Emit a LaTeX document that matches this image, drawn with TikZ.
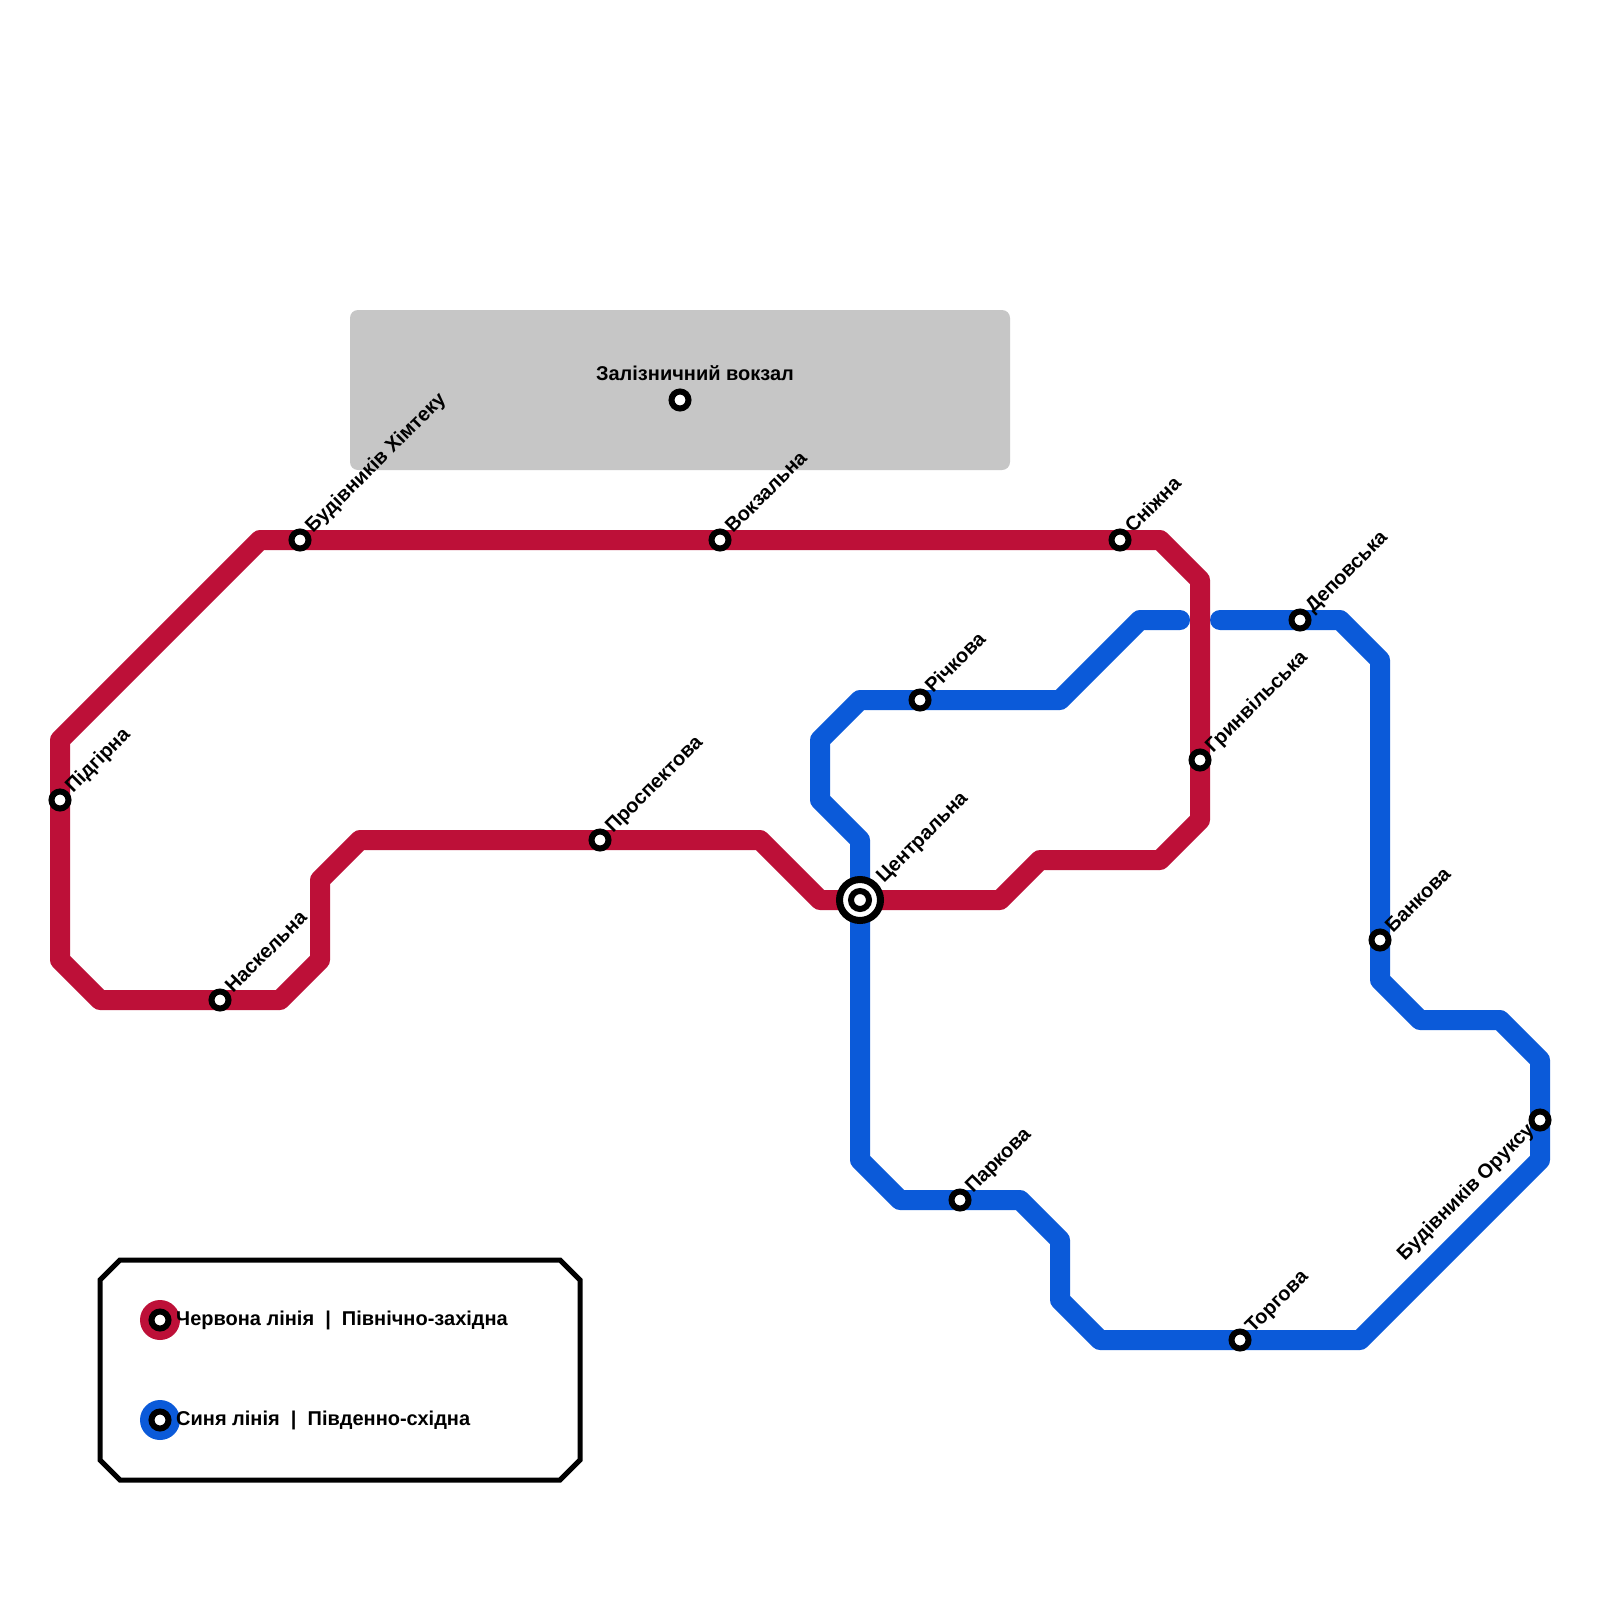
\documentclass[tikz,border=0pt]{standalone}
\usepackage{fontspec}
\setmainfont{Liberation Sans}
\definecolor{redline}{HTML}{BD1038}
\definecolor{blueline}{HTML}{0B5AD9}
\definecolor{zone}{HTML}{C6C6C6}
\tikzset{
  metro/.style={line width=20pt,line join=round},
  ring/.style={circle,draw=black,fill=white,line width=6pt,minimum size=17pt,inner sep=0pt,outer sep=0pt},
  lbl/.style={font=\fontsize{20}{22}\selectfont\bfseries,inner sep=0pt,text=black},
  up/.style={lbl,rotate=45,anchor=base west},
  dn/.style={lbl,rotate=45,anchor=base east},
}
\begin{document}
\begin{tikzpicture}[x=1pt,y=-1pt]
\useasboundingbox (0,0) rectangle (1600,1600);
\fill[white] (0,0) rectangle (1600,1600);
\fill[zone,rounded corners=8pt] (350,310) rectangle (1010,470);
% station positions
\coordinate (pA) at (60,800);
\coordinate (pB) at (300,540);
\coordinate (pC) at (720,540);
\coordinate (pD) at (1120,540);
\coordinate (pE) at (1200,760);
\coordinate (pF) at (1300,620);
\coordinate (pG) at (920,700);
\coordinate (pH) at (860,900);
\coordinate (pI) at (1380,940);
\coordinate (pJ) at (1540,1120);
\coordinate (pK) at (1240,1340);
\coordinate (pL) at (960,1200);
\coordinate (pM) at (220,1000);
\coordinate (pN) at (600,840);
\coordinate (pO) at (680,400);
% blue line
\draw[metro,blueline,line cap=round] (1220,620) -- (pF) -- (1340,620) -- (1380,660) -- (pI) -- (1380,980) -- (1420,1020) -- (1500,1020) -- (1540,1060) -- (pJ) -- (1540,1160) -- (1360,1340) -- (pK) -- (1100,1340) -- (1060,1300) -- (1060,1240) -- (1020,1200) -- (pL) -- (900,1200) -- (860,1160) -- (pH) -- (860,840) -- (820,800) -- (820,740) -- (860,700) -- (pG) -- (1060,700) -- (1140,620) -- (1180,620);
% red line
\draw[metro,redline] (pA) -- (60,740) -- (260,540) -- (pB) -- (pC) -- (pD) -- (1160,540) -- (1200,580) -- (pE) -- (1200,820) -- (1160,860) -- (1040,860) -- (1000,900) -- (pH) -- (820,900) -- (760,840) -- (pN) -- (360,840) -- (320,880) -- (320,960) -- (280,1000) -- (pM) -- (100,1000) -- (60,960) -- cycle;
% stations
\foreach \n in {A,B,C,D,E,F,G,I,J,K,L,M,N,O} \node[ring] (s\n) at (p\n) {};
\node[circle,draw=black,fill=white,line width=7pt,minimum size=41pt,inner sep=0pt,outer sep=0pt] (sHo) at (pH) {};
\node[ring,minimum size=18pt] (sH) at (pH) {};
% labels
\node[up] (tA) at ([shift={(13,-6)}]pA) {Підгірна};
\node[up] (tB) at ([shift={(13,-6)}]pB) {Будівників Хімтеку};
\node[up] (tC) at ([shift={(13,-6)}]pC) {Вокзальна};
\node[up] (tD) at ([shift={(13,-6)}]pD) {Сніжна};
\node[up] (tE) at ([shift={(13,-6)}]pE) {Гринвільська};
\node[up] (tF) at ([shift={(13,-6)}]pF) {Деповська};
\node[up] (tG) at ([shift={(13,-6)}]pG) {Річкова};
\node[up] (tH) at ([shift={(24,-16)}]pH) {Центральна};
\node[up] (tI) at ([shift={(13,-6)}]pI) {Банкова};
\node[dn] (tJ) at ([shift={(-5,11)}]pJ) {Будівників Оруксу};
\node[up] (tK) at ([shift={(13,-6)}]pK) {Торгова};
\node[up] (tL) at ([shift={(13,-6)}]pL) {Паркова};
\node[up] (tM) at ([shift={(13,-6)}]pM) {Наскельна};
\node[up] (tN) at ([shift={(13,-6)}]pN) {Проспектова};
\node[lbl,anchor=base] (tO) at (695,380) {Залізничний вокзал};
% legend
\draw[black,line width=5pt,fill=white] (120,1260) -- (560,1260) -- (580,1280) -- (580,1460) -- (560,1480) -- (120,1480) -- (100,1460) -- (100,1280) -- cycle;
\node[circle,fill=redline,minimum size=40pt,inner sep=0pt,outer sep=0pt] (lr) at (160,1320) {};
\node[circle,fill=blueline,minimum size=40pt,inner sep=0pt,outer sep=0pt] (lb) at (160,1420) {};
\node[ring] (lr2) at (lr) {};
\node[ring] (lb2) at (lb) {};
\node[lbl,anchor=base west] (tr) at (176,1325) {Червона лінія\ \ |\ \ Північно-західна};
\node[lbl,anchor=base west] (tb) at (176,1425) {Синя лінія\ \ |\ \ Південно-східна};
\end{tikzpicture}
\end{document}
